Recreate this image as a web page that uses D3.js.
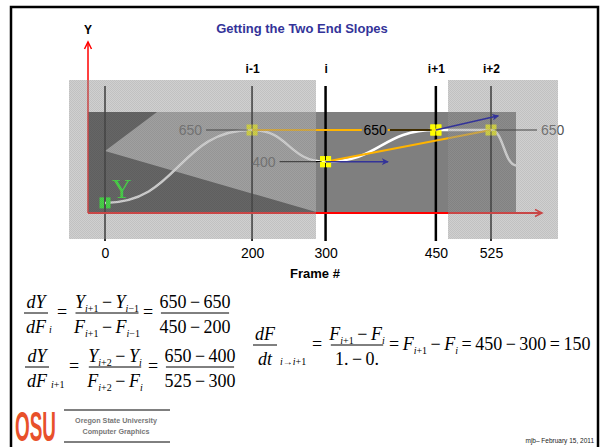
<!DOCTYPE html>
<html>
<head>
<meta charset="utf-8">
<script src="https://cdn.jsdelivr.net/npm/d3@7"></script>
<style>
  body { margin: 0; background: #fff; }
  svg { display: block; }
</style>
</head>
<body>
<script>
// данные слайда
const frames = [0, 200, 300, 450, 525];               // кадры по оси X
const frameNames = ["", "i-1", "i", "i+1", "i+2"];    // подписи сверху
const keyValues = [75, 650, 400, 650, 650];           // значения Y в ключевых кадрах
const curveFrames = [0, 200, 300, 450, 525, 560];     // точки кривой
const curveValues = [75, 650, 400, 650, 650, 370];
const chords = [[1, 3], [2, 4]];                      // хорды (индексы ключевых кадров)
const tangents = [[300, 400, 385, 400], [450, 650, 535, 762]]; // стрелки наклона
const valueLabels = [[1, "left"], [2, "left"], [3, "left"], [4, "right"]];

const svg = d3.select("body").append("svg").attr("width", 602).attr("height", 447);

const x = d3.scaleLinear().domain([0, 525]).range([105, 491]);
const y = d3.scaleLinear().domain([0, 650]).range([212.4, 130]);

const sans = "'Liberation Sans', Arial, sans-serif";
const serif = "'Liberation Serif', 'Times New Roman', 'DejaVu Serif', serif";

// рамка слайда
svg.append("rect").attr("x", 11).attr("y", 7).attr("width", 587).attr("height", 460)
   .attr("fill", "none").attr("stroke", "#000").attr("stroke-width", 2.5);

const defs = svg.append("defs");
const pat = defs.append("pattern").attr("id", "dither").attr("width", 2).attr("height", 2)
   .attr("patternUnits", "userSpaceOnUse");
pat.append("rect").attr("width", 1).attr("height", 1).attr("fill", "#000").attr("opacity", 0.07);
pat.append("rect").attr("x", 1).attr("y", 1).attr("width", 1).attr("height", 1).attr("fill", "#000").attr("opacity", 0.07);
defs.append("marker").attr("id", "blueHead").attr("viewBox", "0 0 10 10").attr("refX", 9).attr("refY", 5)
   .attr("markerWidth", 7).attr("markerHeight", 7).attr("markerUnits", "userSpaceOnUse").attr("orient", "auto")
   .append("path").attr("d", "M0,0 L10,5 L0,10 L3,5 z").attr("fill", "#333399");

// фон картинки
svg.append("rect").attr("x", 88).attr("y", 112).attr("width", 428).attr("height", 101).attr("fill", "#7f7f7f");
svg.append("rect").attr("x", 88).attr("y", 112).attr("width", 228).attr("height", 101).attr("fill", "#383838");
svg.append("polygon").attr("points", "157,112 316,112 316,212 105,151").attr("fill", "#a4a4a4");

// вертикальные линии кадров
svg.selectAll(".vline").data(frames).join("line")
   .attr("x1", d => x(d)).attr("x2", d => x(d)).attr("y1", 86).attr("y2", 241)
   .attr("stroke", "#000").attr("stroke-width", (d, i) => (i === 2 || i === 3) ? 2.5 : 1.6);

// кривая (обрезана по краю тёмного прямоугольника)
defs.append("clipPath").attr("id", "plotClip").append("rect")
   .attr("x", 88).attr("y", 100).attr("width", 428).attr("height", 113);
const line = d3.line().x((d, i) => x(curveFrames[i])).y(d => y(d)).curve(d3.curveBumpX);
svg.append("path").attr("d", line(curveValues)).attr("fill", "none")
   .attr("clip-path", "url(#plotClip)")
   .attr("stroke", "#fff").attr("stroke-width", 2.5);

// хорды
svg.selectAll(".chord").data(chords).join("line")
   .attr("x1", d => x(frames[d[0]])).attr("y1", d => y(keyValues[d[0]]))
   .attr("x2", d => x(frames[d[1]])).attr("y2", d => y(keyValues[d[1]]))
   .attr("stroke", "#ffb400").attr("stroke-width", 2);

// оси (красные)
svg.append("line").attr("x1", 88).attr("x2", 88).attr("y1", 213).attr("y2", 42).attr("stroke", "red").attr("stroke-width", 1.5);
svg.append("path").attr("d", "M84.5,49 L88,42 L91.5,49").attr("fill", "none").attr("stroke", "red").attr("stroke-width", 1.5);
svg.append("line").attr("x1", 88).attr("x2", 542).attr("y1", 213).attr("y2", 213).attr("stroke", "red").attr("stroke-width", 2);
svg.append("path").attr("d", "M535,209.5 L542,213 L535,216.5").attr("fill", "none").attr("stroke", "red").attr("stroke-width", 1.5);

// подписи значений (под полупрозрачной подложкой)
valueLabels.forEach(([k, side]) => {
  if (k === 3) return;
  const px = x(frames[k]), py = y(keyValues[k]);
  const dir = side === "left" ? -1 : 1;
  svg.append("line").attr("x1", px + dir * 4).attr("x2", px + dir * 46).attr("y1", py).attr("y2", py)
     .attr("stroke", "#000").attr("stroke-width", 1.2);
  svg.append("text").attr("x", px + dir * 50).attr("y", py + 5)
     .attr("text-anchor", side === "left" ? "end" : "start")
     .style("font-family", sans).attr("font-size", 14).attr("fill", "#555").text(keyValues[k]);
});

// маркеры ключевых кадров
function marker(cx, cy, color) {
  const g = svg.append("g");
  [[-5.5, -5.5], [0.5, -5.5], [-5.5, 0.5], [0.5, 0.5]].forEach(o => {
    g.append("rect").attr("x", cx + o[0]).attr("y", cy + o[1]).attr("width", 5).attr("height", 5).attr("fill", color);
  });
}
frames.forEach((f, i) => {
  if (i === 0) {
    svg.append("rect").attr("x", x(f) - 5.5).attr("y", y(keyValues[0]) - 5.5).attr("width", 4.5).attr("height", 11).attr("fill", "#00ff00");
    svg.append("rect").attr("x", x(f) + 1).attr("y", y(keyValues[0]) - 5.5).attr("width", 4.5).attr("height", 11).attr("fill", "#00ff00");
  } else {
    marker(x(f), y(keyValues[i]), "#ffff00");
  }
});
svg.append("text").attr("x", 112).attr("y", 198).style("font-family", serif).attr("font-size", 27)
   .attr("fill", "#00ff00").text("Y");

// светлые полупрозрачные области
[[69, 316], [448, 558]].forEach(r => {
  svg.append("rect").attr("x", r[0]).attr("y", 80).attr("width", r[1] - r[0]).attr("height", 159)
     .attr("fill", "rgb(155,155,155)").attr("opacity", 0.47);
  svg.append("rect").attr("x", r[0]).attr("y", 80).attr("width", r[1] - r[0]).attr("height", 159)
     .attr("fill", "url(#dither)");
});

// чёрная подпись у i+1
{
  const px = x(frames[3]), py = y(keyValues[3]);
  svg.append("rect").attr("x", px - 74).attr("y", py - 7).attr("width", 26).attr("height", 14).attr("fill", "#7f7f7f");
  svg.append("line").attr("x1", px - 4).attr("x2", px - 46).attr("y1", py).attr("y2", py)
     .attr("stroke", "#000").attr("stroke-width", 1.5);
  svg.append("text").attr("x", px - 49).attr("y", py + 5).attr("text-anchor", "end")
     .style("font-family", sans).attr("font-size", 14).attr("fill", "#000").text(keyValues[3]);
  marker(px, py, "#ffff00");
}
marker(x(frames[2]), y(keyValues[2]), "#ffff00");

// стрелки наклона
svg.selectAll(".tan").data(tangents).join("line")
   .attr("x1", d => x(d[0])).attr("y1", d => y(d[1])).attr("x2", d => x(d[2])).attr("y2", d => y(d[3]))
   .attr("stroke", "#333399").attr("stroke-width", 1.6).attr("marker-end", "url(#blueHead)");

// заголовок
svg.append("text").attr("x", 302).attr("y", 33).attr("text-anchor", "middle")
   .style("font-family", sans).attr("font-weight", "bold").attr("font-size", 13).attr("fill", "#333399")
   .text("Getting the Two End Slopes");
svg.append("text").attr("x", 88).attr("y", 34).attr("text-anchor", "middle")
   .style("font-family", sans).attr("font-weight", "bold").attr("font-size", 12).text("Y");

// подписи i-1, i, ... сверху
const topAxis = svg.append("g").attr("transform", "translate(0,76)")
   .call(d3.axisTop(x).tickValues(frames).tickSize(0).tickPadding(3).tickFormat((d, i) => frameNames[i]));
topAxis.select(".domain").remove();
topAxis.selectAll("text").style("font-family", sans).attr("font-weight", "bold").attr("font-size", 12).attr("fill", "#000");

// подписи кадров снизу
const botAxis = svg.append("g").attr("transform", "translate(0,241)")
   .call(d3.axisBottom(x).tickValues(frames).tickSize(0).tickPadding(7).tickFormat(d3.format("d")));
botAxis.select(".domain").remove();
botAxis.selectAll("text").style("font-family", sans).attr("font-size", 14).attr("fill", "#000");

svg.append("text").attr("x", 315).attr("y", 278).attr("text-anchor", "middle")
   .style("font-family", sans).attr("font-weight", "bold").attr("font-size", 13).text("Frame #");

// формулы
const FS = 18, GAP = 3.5;
function mathText(px, py, parts, anchor, size) {
  const base = size || FS;
  const t = svg.append("text").attr("x", px).attr("y", py).attr("text-anchor", anchor || "middle")
     .style("font-family", serif).attr("font-size", base).attr("fill", "#000");
  let shift = 0, pending = 0;
  parts.forEach(([s, k]) => {
    const sub = k[0] === "s";
    const target = sub ? 4 : 0;
    const ts = t.append("tspan").text(s).attr("dy", target - shift)
       .attr("font-style", k.endsWith("i") ? "italic" : "normal")
       .attr("font-size", sub ? 10 : base);
    let dx = pending;
    pending = 0;
    if (k === "o") { dx += GAP; pending = GAP; }
    if (dx) ts.attr("dx", dx);
    shift = target;
  });
  return t;
}
function frac(cx, yBar, num, den) {
  const a = mathText(cx, yBar - 5, num);
  const b = mathText(cx, yBar + 20, den);
  const w = Math.max(a.node().getComputedTextLength(), b.node().getComputedTextLength()) + 4;
  svg.append("line").attr("x1", cx - w / 2).attr("x2", cx + w / 2).attr("y1", yBar).attr("y2", yBar)
     .attr("stroke", "#000").attr("stroke-width", 1);
}

// строка 1
frac(36, 313, [["dY", "i"]], [["dF", "i"]]);
mathText(49, 333, [["i", "i"]], "start", 10);
mathText(62, 318, [["=", "n"]]);
frac(107, 313, [["Y", "i"], ["i", "si"], ["+1", "sn"], ["\u2212", "o"], ["Y", "i"], ["i", "si"], ["\u22121", "sn"]],
               [["F", "i"], ["i", "si"], ["+1", "sn"], ["\u2212", "o"], ["F", "i"], ["i", "si"], ["\u22121", "sn"]]);
mathText(148, 318, [["=", "n"]]);
frac(195, 313, [["650", "n"], ["\u2212", "o"], ["650", "n"]], [["450", "n"], ["\u2212", "o"], ["200", "n"]]);

// строка 2
frac(37, 367, [["dY", "i"]], [["dF", "i"]]);
mathText(51, 388, [["i", "i"], ["+1", "n"]], "start", 10);
mathText(74, 372, [["=", "n"]]);
frac(115, 367, [["Y", "i"], ["i", "si"], ["+2", "sn"], ["\u2212", "o"], ["Y", "i"], ["i", "si"]],
               [["F", "i"], ["i", "si"], ["+2", "sn"], ["\u2212", "o"], ["F", "i"], ["i", "si"]]);
mathText(153, 372, [["=", "n"]]);
frac(200, 367, [["650", "n"], ["\u2212", "o"], ["400", "n"]], [["525", "n"], ["\u2212", "o"], ["300", "n"]]);

// строка 3
frac(265, 345, [["dF", "i"]], [["dt", "i"]]);
mathText(280, 365, [["i", "i"], ["\u2192", "n"], ["i", "i"], ["+1", "n"]], "start", 10);
mathText(317, 350, [["=", "n"]]);
frac(357, 345, [["F", "i"], ["i", "si"], ["+1", "sn"], ["\u2212", "o"], ["F", "i"], ["i", "si"]],
               [["1.", "n"], ["\u2212", "o"], ["0.", "n"]]);
mathText(389, 350, [["=", "n"], ["", "o"], ["F", "i"], ["i", "si"], ["+1", "sn"], ["\u2212", "o"], ["F", "i"], ["i", "si"],
                    ["=", "o"], ["450", "n"], ["\u2212", "o"], ["300", "n"], ["=", "o"], ["150", "n"]], "start");

// подвал: логотип сжимаем по ширине через transform
const osu = svg.append("text").attr("x", 0).attr("y", 0)
   .style("font-family", "'Liberation Sans Narrow', 'Liberation Sans', sans-serif")
   .attr("font-weight", "bold").attr("font-size", 42).attr("fill", "#e8502a").text("OSU");
const osuW = osu.node().getComputedTextLength();
osu.attr("transform", `translate(15,441) scale(${41 / osuW},1)`);
svg.append("line").attr("x1", 64).attr("x2", 170).attr("y1", 410).attr("y2", 410).attr("stroke", "#000").attr("stroke-width", 1);
svg.append("line").attr("x1", 64).attr("x2", 170).attr("y1", 442).attr("y2", 442).attr("stroke", "#000").attr("stroke-width", 1);
svg.append("text").attr("x", 116).attr("y", 423).attr("text-anchor", "middle").style("font-family", sans)
   .attr("font-weight", "bold").attr("font-size", 7.2).attr("fill", "#777").text("Oregon State University");
svg.append("text").attr("x", 116).attr("y", 434).attr("text-anchor", "middle").style("font-family", sans)
   .attr("font-weight", "bold").attr("font-size", 7.2).attr("fill", "#777").text("Computer Graphics");
svg.append("text").attr("x", 594).attr("y", 443).attr("text-anchor", "end").style("font-family", sans)
   .attr("font-size", 6.5).attr("fill", "#222").text("mjb\u2013 February 15, 2011");
</script>
</body>
</html>
